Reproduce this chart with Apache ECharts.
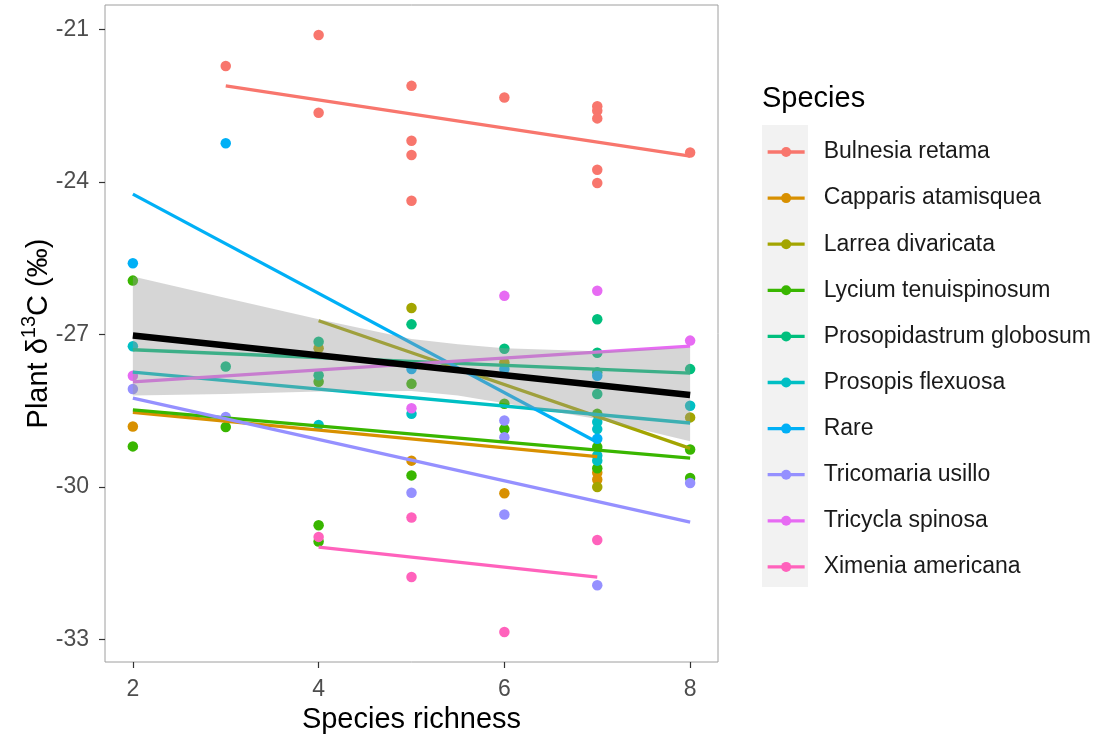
<!DOCTYPE html>
<html>
<head>
<meta charset="utf-8">
<script src="https://cdn.jsdelivr.net/npm/echarts@6/dist/echarts.min.js"></script>
<style>
html,body{margin:0;padding:0;background:#fff;}
#chart{width:1105px;height:740px;}
</style>
</head>
<body>
<div id="chart"></div>
<script>
// ---------- data ----------
const speciesNames = ['Bulnesia retama','Capparis atamisquea','Larrea divaricata','Lycium tenuispinosum','Prosopidastrum globosum','Prosopis flexuosa','Rare','Tricomaria usillo','Tricycla spinosa','Ximenia americana'];
const speciesColors = ['#F8766D','#D89000','#A3A500','#39B600','#00BF7D','#00BFC4','#00B0F6','#9590FF','#E76BF3','#FF62BC'];

const xTicks = [2, 4, 6, 8];
const yTicks = [-33, -30, -27, -24, -21];

// observed points [species richness, delta13C]
const ptsBulnesia = [[3,-21.72],[4,-21.11],[4,-22.64],[5,-22.11],[5,-23.19],[5,-23.47],[5,-24.37],[6,-22.34],[7,-22.51],[7,-22.60],[7,-22.75],[7,-23.76],[7,-24.02],[8,-23.42]];
const ptsCapparis = [[2,-28.81],[5,-29.48],[6,-30.12],[7,-29.72],[7,-29.85]];
const ptsLarrea = [[4,-27.27],[5,-26.48],[6,-27.55],[7,-30.00],[8,-28.63]];
const ptsLycium = [[2,-25.94],[2,-29.20],[3,-28.82],[4,-27.93],[4,-30.75],[4,-31.07],[5,-27.97],[5,-29.77],[6,-28.36],[6,-28.86],[7,-28.56],[7,-29.21],[7,-29.63],[8,-29.26],[8,-29.82]];
const ptsProsopidastrum = [[3,-27.63],[4,-27.14],[4,-27.80],[5,-26.80],[6,-27.28],[7,-26.70],[7,-27.36],[7,-27.74],[7,-28.17],[8,-27.68]];
const ptsProsopis = [[2,-27.23],[4,-28.78],[5,-28.56],[7,-28.72],[7,-28.86],[7,-29.38],[7,-29.48],[8,-28.40]];
const ptsRare = [[2,-25.60],[3,-23.24],[5,-27.68],[6,-27.68],[7,-27.81],[7,-29.05]];
const ptsTricomaria = [[2,-28.07],[3,-28.62],[5,-30.11],[6,-28.69],[6,-29.02],[6,-30.54],[7,-31.93],[8,-29.92]];
const ptsTricycla = [[2,-27.81],[5,-28.45],[6,-26.24],[7,-26.14],[8,-27.12]];
const ptsXimenia = [[4,-30.98],[5,-30.60],[5,-31.77],[6,-32.85],[7,-31.04]];

// per-species fitted lines (endpoints)
const fitBulnesia = [[3,-22.11],[8,-23.49]];
const fitCapparis = [[2,-28.53],[7,-29.40]];
const fitLarrea = [[4,-26.73],[8,-29.24]];
const fitLycium = [[2,-28.48],[8,-29.43]];
const fitProsopidastrum = [[2,-27.30],[8,-27.76]];
const fitProsopis = [[2,-27.74],[8,-28.74]];
const fitRare = [[2,-24.24],[7,-29.12]];
const fitTricomaria = [[2,-28.25],[8,-30.69]];
const fitTricycla = [[2,-27.93],[8,-27.23]];
const fitXimenia = [[4,-31.18],[7,-31.77]];

// overall fit and its confidence band
const fitAll = [[2,-27.02],[8,-28.19]];
const bandX = [2, 3, 4, 5, 5.5, 6, 7, 8];
const bandUpper = [-25.86, -26.28, -26.70, -27.09, -27.19, -27.27, -27.33, -27.26];
const bandLower = [-28.20, -28.17, -28.12, -28.11, -28.20, -28.35, -28.66, -29.10];

// ---------- chart ----------
const allPts = [ptsBulnesia, ptsCapparis, ptsLarrea, ptsLycium, ptsProsopidastrum, ptsProsopis, ptsRare, ptsTricomaria, ptsTricycla, ptsXimenia];
const allFits = [fitBulnesia, fitCapparis, fitLarrea, fitLycium, fitProsopidastrum, fitProsopis, fitRare, fitTricomaria, fitTricycla, fitXimenia];

const FONT = 'Liberation Sans, Arial, sans-serif';
const series = [];
speciesNames.forEach((n, i) => {
  series.push({
    type: 'line', name: n, data: allFits[i], symbol: 'none', z: 3,
    lineStyle: { color: speciesColors[i], width: 3.3 }, itemStyle: { color: speciesColors[i] },
    silent: true, animation: false
  });
});
speciesNames.forEach((n, i) => {
  series.push({
    type: 'scatter', name: n, data: allPts[i], symbol: 'circle', symbolSize: 10.5, z: 2,
    itemStyle: { color: speciesColors[i], opacity: 1 }, silent: true, animation: false
  });
});
series.push({
  type: 'custom', name: 'band', z: 4, silent: true, animation: false,
  data: [[bandX[0], bandUpper[0]]],
  renderItem: function (params, api) {
    const pts = [];
    for (let i = 0; i < bandX.length; i++) pts.push(api.coord([bandX[i], bandUpper[i]]));
    for (let i = bandX.length - 1; i >= 0; i--) pts.push(api.coord([bandX[i], bandLower[i]]));
    return { type: 'polygon', shape: { points: pts }, style: { fill: 'rgba(153,153,153,0.4)', stroke: null } };
  }
});
series.push({
  type: 'line', name: 'overall', data: fitAll, symbol: 'none', z: 5,
  lineStyle: { color: '#000000', width: 6.5 }, silent: true, animation: false
});

const chart = echarts.init(document.getElementById('chart'), null, { renderer: 'canvas' });
chart.setOption({
  animation: false,
  backgroundColor: '#ffffff',
  grid: { left: 105, top: 5, right: 387, bottom: 78, show: true, borderColor: '#9E9E9E', borderWidth: 1, backgroundColor: '#ffffff' },
  xAxis: {
    type: 'value', min: 1.7, max: 8.3,
    axisLine: { show: false },
    splitLine: { show: false },
    axisTick: { show: true, length: 6, lineStyle: { color: '#333333', width: 1.2 }, customValues: xTicks },
    axisLabel: { color: '#4D4D4D', fontSize: 23, fontFamily: FONT, margin: 16, customValues: xTicks },
    name: 'Species richness', nameLocation: 'middle', nameGap: 43, nameMoveOverlap: false,
    nameTextStyle: { color: '#000000', fontSize: 29, fontFamily: FONT }
  },
  yAxis: {
    type: 'value', min: -33.44, max: -20.52,
    axisLine: { show: false },
    splitLine: { show: false },
    axisTick: { show: true, length: 6, lineStyle: { color: '#333333', width: 1.2 }, customValues: yTicks },
    axisLabel: { color: '#4D4D4D', fontSize: 23, fontFamily: FONT, margin: 16, customValues: yTicks },
    name: '{n|Plant δ}{s|13}{n|C (‰)}', nameLocation: 'middle', nameGap: 52, nameMoveOverlap: false,
    nameTextStyle: {
      color: '#000000', fontFamily: FONT,
      rich: {
        n: { fontSize: 29, fontFamily: FONT, color: '#000', lineHeight: 34, verticalAlign: 'bottom' },
        s: { fontSize: 20, fontFamily: FONT, color: '#000', lineHeight: 34, verticalAlign: 'top' }
      }
    }
  },
  legend: {
    data: speciesNames, orient: 'vertical', left: 766, top: 140.5,
    itemWidth: 37, itemHeight: 12.5, itemGap: 23.1, padding: 0,
    selectedMode: false, z: 5,
    lineStyle: { width: 3.3 },
    textStyle: { color: '#1A1A1A', fontSize: 23, fontFamily: FONT, padding: [0, 0, 0, 14] }
  },
  graphic: [
    { type: 'rect', left: 762, top: 125, shape: { width: 46, height: 462 }, style: { fill: '#F2F2F2' }, z: 0, silent: true },
    { type: 'text', left: 762, top: 84, style: { text: 'Species', fontSize: 29, fontFamily: FONT, fill: '#000' }, z: 1, silent: true }
  ],
  series: series
});
</script>
</body>
</html>
